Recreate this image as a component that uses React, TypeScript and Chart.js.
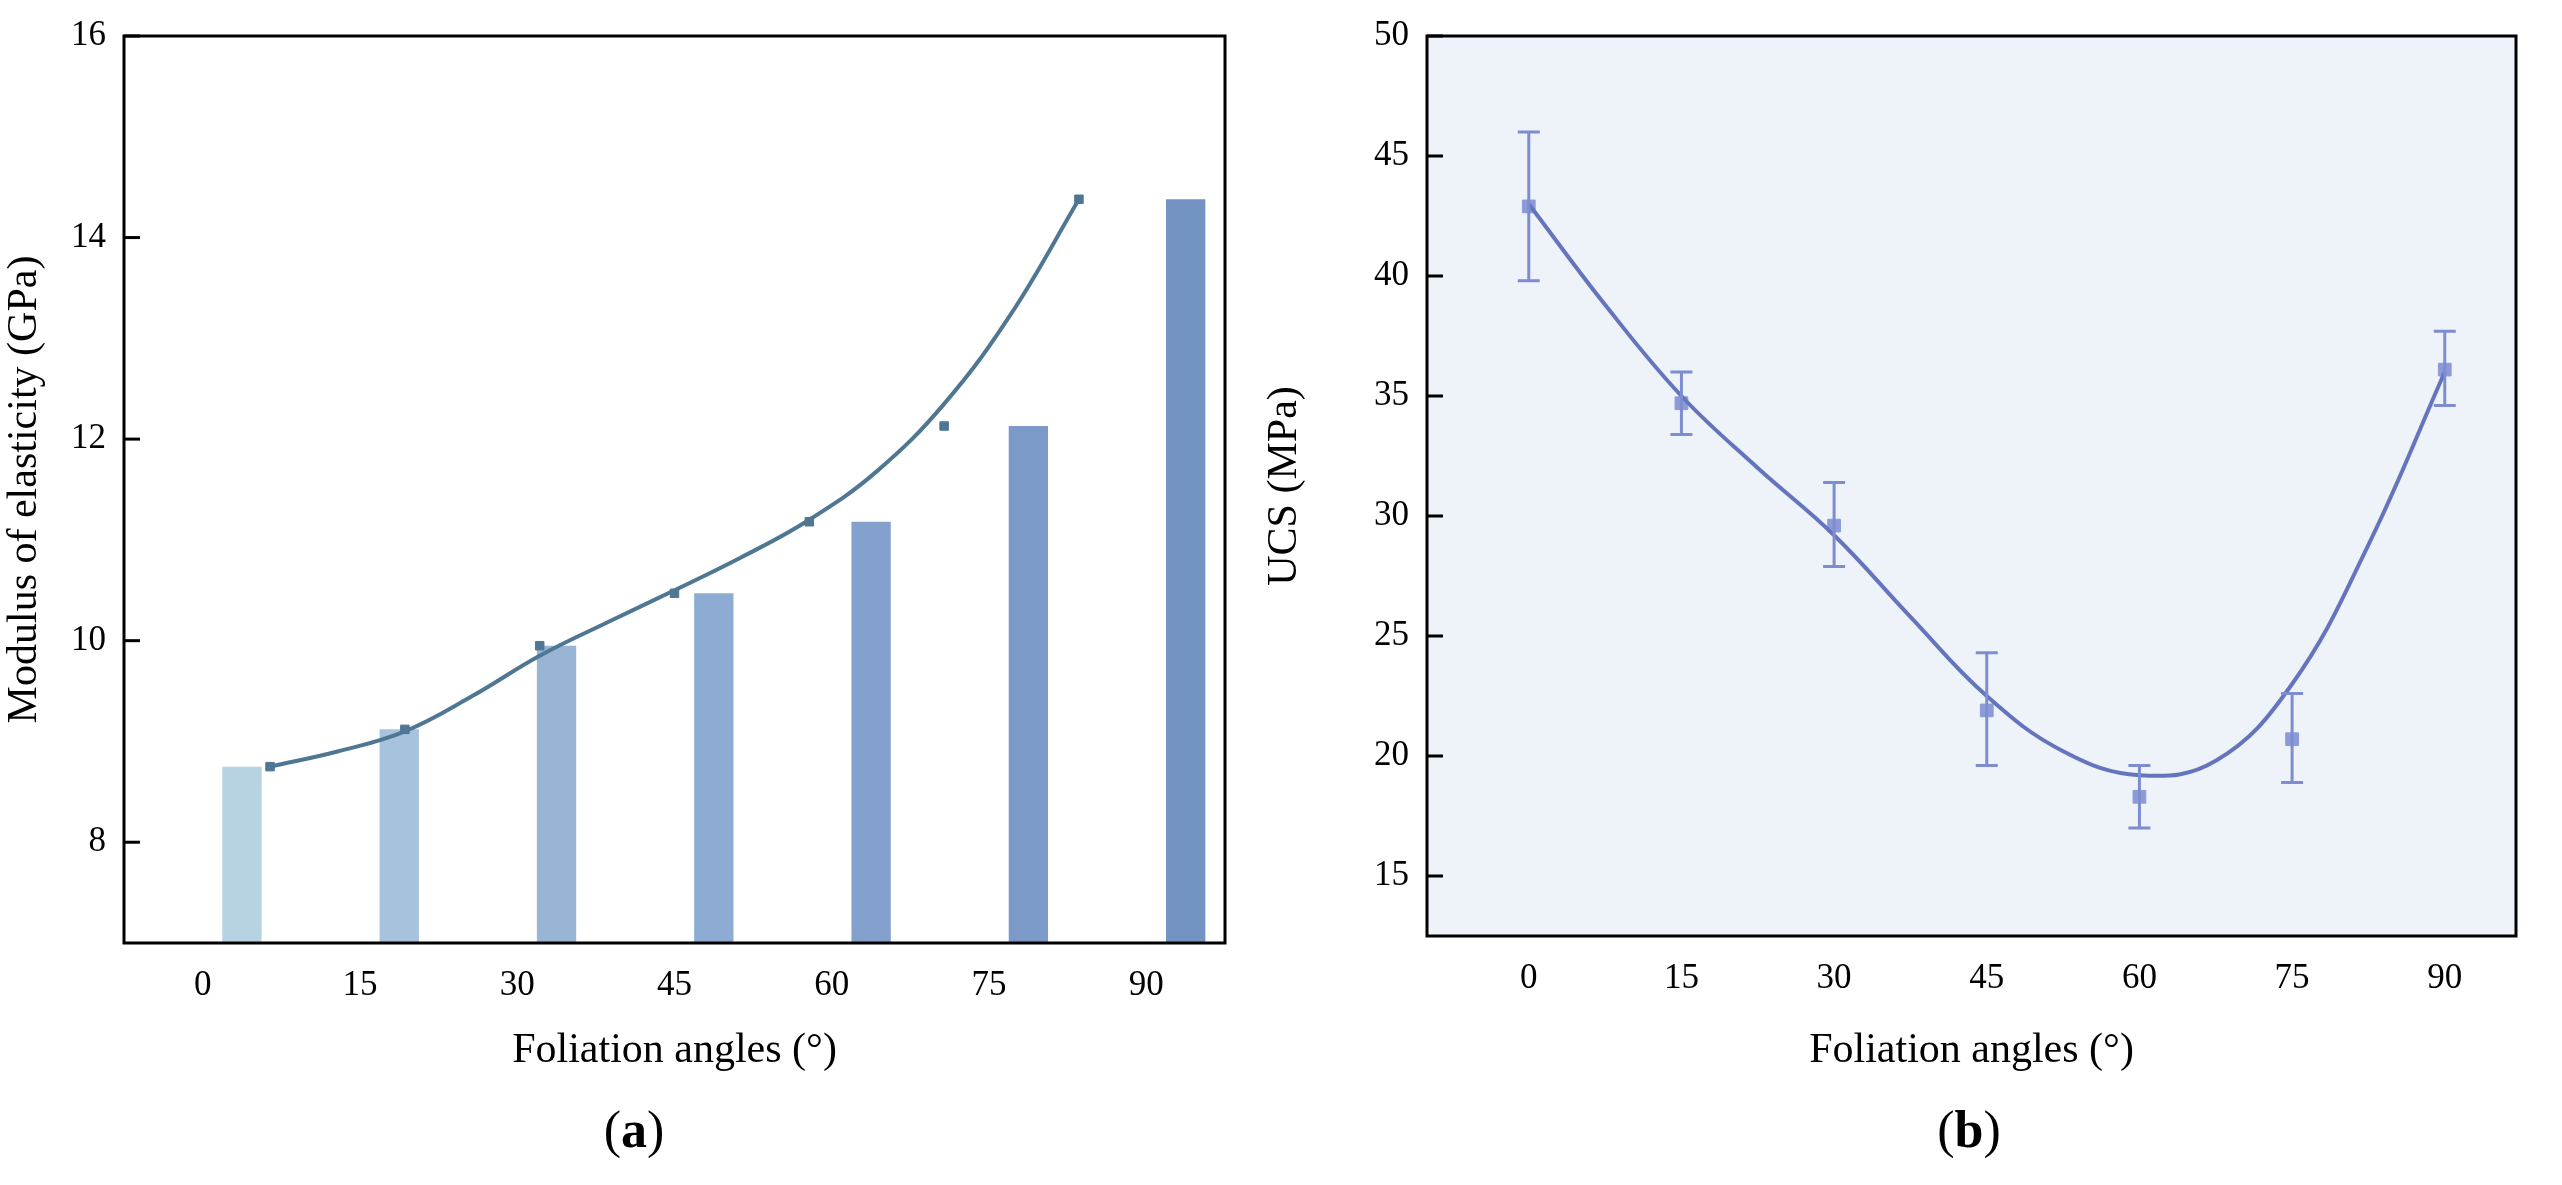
import React, { useEffect, useRef } from "react";
import { Chart, registerables } from "chart.js";
Chart.register(...registerables);

const angles = ["0", "15", "30", "45", "60", "75", "90"];
const modulus = [8.75, 9.12, 9.95, 10.47, 11.18, 12.13, 14.38];
const barColors = ["#b7d3e3", "#a6c2dc", "#98b5d6", "#8eabd3", "#84a0cc", "#7b9ac8", "#7393c3"];
const angleNums = [0, 15, 30, 45, 60, 75, 90];
const modFitY = [8.75, 8.9, 9.1, 9.45, 9.85, 10.18, 10.5, 10.83, 11.2, 11.68, 12.35, 13.25, 14.38];
const ucs = [42.9, 34.7, 29.6, 21.9, 18.3, 20.7, 36.1];
const ucsLow = [39.8, 33.4, 27.9, 19.6, 17.0, 18.9, 34.6];
const ucsHigh = [46.0, 36.0, 31.4, 24.3, 19.6, 22.6, 37.7];
const fitX = [0, 7.5, 15, 22.5, 30, 37.5, 45, 52.5, 60, 67.5, 75, 82.5, 90];
const fitY = [43.0, 38.8, 35.0, 32.0, 29.2, 25.8, 22.5, 20.2, 19.2, 19.8, 23.0, 28.8, 36.0];

const FONT = "'Liberation Serif', 'DejaVu Serif', serif";

const frame = (bg?: string) => ({
  id: "frame",
  beforeDraw(c: any) {
    if (!bg) return;
    const a = c.chartArea;
    c.ctx.save();
    c.ctx.fillStyle = bg;
    c.ctx.fillRect(a.left, a.top, a.right - a.left, a.bottom - a.top);
    c.ctx.restore();
  },
  afterDraw(c: any) {
    const a = c.chartArea, ctx = c.ctx;
    ctx.save();
    ctx.strokeStyle = "#000";
    ctx.lineWidth = 3;
    ctx.strokeRect(a.left, a.top, a.right - a.left, a.bottom - a.top);
    const y = c.scales.y;
    y.ticks.forEach((t: any) => {
      const py = y.getPixelForValue(t.value);
      ctx.beginPath(); ctx.moveTo(a.left, py); ctx.lineTo(a.left + 16, py); ctx.stroke();
    });
    ctx.restore();
  },
});

const errPlugin = {
  id: "err",
  afterDatasetsDraw(c: any) {
    const ctx = c.ctx, x = c.scales.x, y = c.scales.y;
    ctx.save();
    ctx.strokeStyle = "#7d8dcf";
    ctx.lineWidth = 3;
    angleNums.forEach((v, i) => {
      const px = x.getPixelForValue(v);
      const lo = y.getPixelForValue(ucsLow[i]), hi = y.getPixelForValue(ucsHigh[i]);
      ctx.beginPath();
      ctx.moveTo(px, lo); ctx.lineTo(px, hi);
      ctx.moveTo(px - 11, lo); ctx.lineTo(px + 11, lo);
      ctx.moveTo(px - 11, hi); ctx.lineTo(px + 11, hi);
      ctx.stroke();
    });
    ctx.restore();
  },
};

const tickFont = { family: FONT, size: 35 };
const titleFont = { family: FONT, size: 42 };

export default function App() {
  const r1 = useRef<HTMLCanvasElement>(null);
  const r2 = useRef<HTMLCanvasElement>(null);
  useEffect(() => {
    const c1 = new Chart(r1.current!, {
      type: "bar",
      data: {
        labels: angles,
        datasets: [
          {
            type: "line", xAxisID: "x2", data: fitX.map((x, i) => ({ x, y: modFitY[i] })),
            borderColor: "#4f7793", borderWidth: 4, tension: 0.4, pointRadius: 0, order: 0,
          } as any,
          {
            type: "scatter", xAxisID: "x2", data: angleNums.map((x, i) => ({ x, y: modulus[i] })),
            pointStyle: "rect", pointRadius: 6, backgroundColor: "#4f7793", borderColor: "#4f7793", order: 0,
          } as any,
          { type: "bar", data: modulus, backgroundColor: barColors, barPercentage: 0.5, categoryPercentage: 1, order: 1 },
        ],
      },
      options: {
        responsive: false, animation: false,
        layout: { padding: { top: 36, right: 35 } },
        plugins: { legend: { display: false }, tooltip: { enabled: false } },
        scales: {
          x: {
            grid: { display: false }, border: { display: false },
            ticks: { font: tickFont, color: "#000", padding: 14 },
            title: { display: true, text: "Foliation angles (°)", font: titleFont, color: "#000", padding: { top: 10 } },
            afterFit: (s: any) => { s.height = 137; },
          },
          x2: { type: "linear", min: -7.5, max: 97.5, display: false },
          y: {
            min: 7, max: 16, grid: { display: false }, border: { display: false },
            ticks: { font: tickFont, color: "#000", padding: 10 },
            afterBuildTicks: (s: any) => { s.ticks = [8, 10, 12, 14, 16].map((v) => ({ value: v })); },
            title: { display: true, text: "Modulus of elasticity (GPa)", font: titleFont, color: "#000", padding: 0 },
            afterFit: (s: any) => { s.width = 124; },
          },
        },
      },
      plugins: [frame()],
    });
    const c2 = new Chart(r2.current!, {
      type: "scatter",
      data: {
        datasets: [
          {
            type: "line", data: fitX.map((x, i) => ({ x, y: fitY[i] })), borderColor: "#6575bd",
            borderWidth: 4, tension: 0.4, pointRadius: 0,
          } as any,
          {
            data: angleNums.map((x, i) => ({ x, y: ucs[i] })), pointStyle: "rect", pointRadius: 9,
            backgroundColor: "#8b9bd8", borderColor: "#8b9bd8",
          },
        ],
      },
      options: {
        responsive: false, animation: false,
        layout: { padding: { top: 36, right: 46 } },
        plugins: { legend: { display: false }, tooltip: { enabled: false } },
        scales: {
          x: {
            type: "linear", min: -10, max: 97, grid: { display: false }, border: { display: false },
            afterBuildTicks: (s: any) => { s.ticks = angleNums.map((v) => ({ value: v })); },
            ticks: { font: tickFont, color: "#000", padding: 14 },
            title: { display: true, text: "Foliation angles (°)", font: titleFont, color: "#000", padding: { top: 10 } },
            afterFit: (s: any) => { s.height = 144; },
          },
          y: {
            min: 12.5, max: 50, grid: { display: false }, border: { display: false },
            afterBuildTicks: (s: any) => { s.ticks = [15, 20, 25, 30, 35, 40, 45, 50].map((v) => ({ value: v })); },
            ticks: { font: tickFont, color: "#000", padding: 10 },
            title: { display: true, text: "UCS (MPa)", font: titleFont, color: "#000", padding: 0 },
            afterFit: (s: any) => { s.width = 167; },
          },
        },
      },
      plugins: [frame("#eef3f9"), errPlugin],
    });
    return () => { c1.destroy(); c2.destroy(); };
  }, []);
  const cap: React.CSSProperties = { position: "absolute", top: 1100, fontFamily: FONT, fontSize: 52, width: 200, textAlign: "center" };
  return (
    <div style={{ position: "fixed", left: 0, top: 0, width: 2562, height: 1185, background: "#fff" }}>
      <canvas ref={r1} width={1260} height={1080} style={{ position: "absolute", left: 0, top: 0 }} />
      <canvas ref={r2} width={1302} height={1080} style={{ position: "absolute", left: 1260, top: 0 }} />
      <div style={{ ...cap, left: 534 }}>(<b>a</b>)</div>
      <div style={{ ...cap, left: 1869 }}>(<b>b</b>)</div>
    </div>
  );
}
